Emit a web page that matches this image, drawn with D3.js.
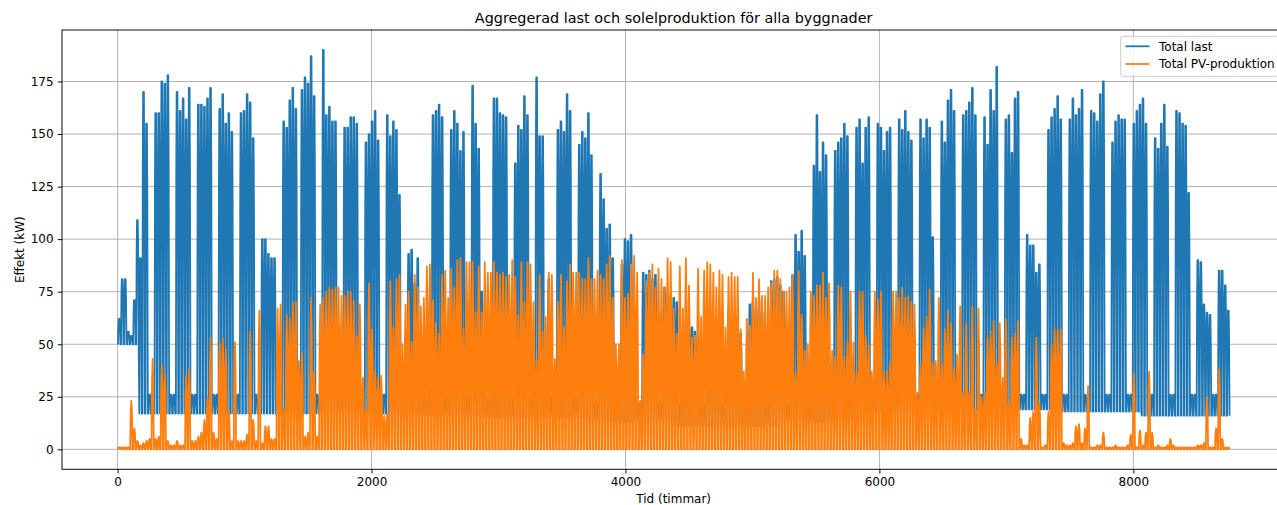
<!DOCTYPE html>
<meta charset="utf-8">
<head>
<style>
  body { margin: 0; background: #fff; }
  svg text { font-family: "DejaVu Sans", sans-serif; fill: #000; }
  .grid line { stroke: #b0b0b0; stroke-width: 0.96; }
</style>
</head>
<body>
<div id="chart"></div>
<script src="https://cdn.jsdelivr.net/npm/d3@7"></script>
<script>

// daily max of total load (kW), one value per day of the year (Feb 29 missing)
var loadPeak = [
  62, 81, 81, 56, 54, 71, 109, 91, 170, 155, 26, 26,
  160, 160, 175, 174, 178, 26, 26,
  170, 161, 167, 157, 172, 26, 26,
  164, 164, 163, 167, 172, 26, 26,
  162, 169, 155, 160, 151, 26, 26,
  160, 161, 169, 165, 148, 26, 26,
  100, 100, 93, 91, 91, 24, 24,
  156, 153, 166, 172, 162, 24,
  171, 177, 174, 187, 168, 26, 26,
  190, 159, 163, 156, 156, 26, 26,
  153, 153, 158, 158, 155, 26, 26,
  146, 150, 156, 161, 147, 26, 26,
  159, 149, 156, 152, 121, 24, 24,
  93, 95, 79, 91, 40, 24, 24,
  30, 159, 161, 164, 158, 24, 24,
  152, 161, 155, 142, 151, 24, 24,
  173, 155, 143, 75, 32, 24, 24,
  167, 167, 160, 159, 158, 24, 24,
  136, 154, 152, 168, 159, 24, 24,
  177, 149, 149, 40, 81, 24, 24,
  152, 156, 151, 169, 161, 24, 24,
  145, 151, 148, 160, 140, 22, 22,
  131, 119, 105, 107, 91, 22, 22,
  88, 100, 99, 102, 35, 22, 22,
  84, 83, 85, 81, 83, 22, 22,
  77, 74, 73, 72, 70, 22, 22,
  62, 60, 58, 56, 54, 22, 22,
  55, 55, 57, 54, 52, 22, 22,
  66, 60, 58, 60, 55, 22, 22,
  69, 70, 66, 71, 65, 22, 22,
  80, 81, 82, 78, 75, 22, 22,
  83, 102, 94, 104, 92, 24, 24,
  135, 159, 132, 146, 140, 26, 26,
  142, 146, 148, 155, 149, 26, 26,
  153, 157, 136, 153, 158, 26, 26,
  155, 153, 142, 151, 153, 26, 26,
  157, 152, 161, 151, 147, 26, 26,
  157, 148, 157, 153, 101, 26, 26,
  156, 146, 166, 171, 161, 26, 26,
  159, 161, 165, 172, 159, 26, 26,
  158, 145, 171, 161, 182, 26, 26,
  157, 159, 141, 167, 170, 26, 26,
  102, 97, 97, 84, 88, 26, 26,
  152, 158, 162, 168, 157, 26, 26,
  157, 167, 159, 162, 171, 26, 26,
  161, 160, 156, 169, 175, 26, 26,
  146, 156, 159, 157, 157, 26, 26,
  155, 161, 164, 167, 155, 26, 26,
  148, 143, 155, 164, 144, 26, 26,
  161, 160, 155, 154, 122, 26, 26,
  90, 89, 69, 65, 64, 26, 26,
  85, 85, 78, 66
];

// night level of the load (kW), per week
var loadBase = [
  50, 17, 17, 17, 17, 17, 17, 17, 17, 17, 17, 17, 17,
  16, 16, 16, 16, 15, 15, 15, 15, 15, 13, 13, 13, 13,
  11, 11, 11, 11, 11, 13, 13, 13, 13, 18, 18, 18, 18,
  19, 19, 19, 19, 19, 18, 18, 18, 18, 16, 16, 16, 16, 16
];

// daily max of PV production (kW)
var pvPeak = [
  1, 1, 1, 1, 23, 10, 4, 2, 3, 4, 5, 43,
  5, 6, 40, 36, 4, 2, 2,
  4, 2, 2, 35, 38, 4, 4,
  6, 8, 14, 24, 53, 8, 5,
  50, 53, 48, 18, 4, 51, 4,
  4, 4, 7, 56, 14, 4, 66,
  3, 11, 11, 5, 5, 67, 69,
  19, 64, 62, 70, 70, 42,
  46, 6, 8, 72, 37, 6, 69,
  72, 75, 77, 76, 77, 77, 73,
  73, 75, 75, 71, 54, 69, 34,
  19, 79, 57, 37, 34, 35, 16,
  17, 80, 58, 81, 83, 50, 69,
  75, 51, 83, 77, 68, 72, 87,
  88, 71, 60, 55, 83, 85, 72,
  86, 77, 90, 91, 57, 89, 89,
  89, 65, 87, 65, 89, 84, 84,
  89, 84, 83, 84, 82, 83, 90,
  82, 64, 89, 70, 89, 88, 70,
  43, 83, 56, 63, 84, 83, 43,
  70, 83, 58, 80, 88, 84, 84,
  84, 81, 81, 91, 81, 81, 85,
  83, 81, 88, 92, 72, 50, 50,
  90, 72, 74, 88, 92, 84, 23,
  45, 80, 84, 88, 77, 86, 81,
  77, 91, 89, 67, 55, 87, 67,
  91, 78, 53, 54, 86, 63, 85,
  89, 88, 84, 77, 85, 83, 58,
  82, 84, 82, 82, 57, 37, 62,
  59, 84, 72, 81, 73, 73, 77,
  79, 85, 85, 81, 75, 75, 77,
  83, 36, 85, 64, 47, 50, 75,
  73, 78, 78, 84, 72, 79, 47,
  44, 78, 77, 44, 51, 75, 51,
  37, 75, 75, 54, 50, 37, 75,
  71, 75, 37, 37, 41, 75, 75,
  72, 77, 72, 73, 70, 69, 27,
  41, 58, 63, 76, 41, 42, 72,
  40, 57, 66, 60, 38, 45, 68,
  27, 60, 27, 68, 19, 67, 25,
  27, 53, 56, 61, 41, 60, 34,
  62, 22, 53, 55, 61, 5, 2,
  2, 15, 18, 53, 22, 1, 2,
  18, 50, 57, 57, 57, 3, 2,
  2, 3, 11, 12, 3, 10, 30,
  1, 1, 2, 2, 8, 1, 1,
  1, 2, 1, 1, 1, 2, 7,
  36, 1, 9, 2, 8, 37, 8,
  1, 2, 1, 1, 2, 5, 2,
  1, 1, 1, 1, 1, 1, 1,
  2, 2, 3, 25, 1, 1, 10,
  38, 5, 1, 1
];

// typical day: [hour, share of the way from night level to the day's peak]
var loadDay = [[3, 0], [6, 0.75], [9, 1], [15, 1], [18, 0.75], [22, 0]];
var pvDay = [[3, 0], [7, 0.75], [12, 1], [17, 0.75], [21, 0]];

var xTicks = [0, 2000, 4000, 6000, 8000];
var yTicks = [0, 25, 50, 75, 100, 125, 150, 175];
var seriesNames = ["Total last", "Total PV-produktion"];
var colors = ["#1f77b4", "#ff7f0e"];

// hourly points from the daily values
var loadData = [];
loadPeak.forEach(function(p, d) {
  var b = loadBase[Math.floor(d / 7)];
  loadDay.forEach(function(s) {
    loadData.push([24 * d + s[0], b + s[1] * (p - b)]);
  });
});
var pvData = [];
pvPeak.forEach(function(p, d) {
  pvDay.forEach(function(s) {
    pvData.push([24 * d + s[0], s[1] * p]);
  });
});

var W = 1277, H = 505;
var plot = {left: 62, top: 30, right: 1285.3, bottom: 469.3};

var svg = d3.select("#chart").append("svg")
    .attr("width", W)
    .attr("height", H);

var hMax = loadPeak.length * 24 - 1;
var x = d3.scaleLinear()
    .domain([-0.05 * hMax, hMax * 1.05])
    .range([plot.left, plot.right]);
var yMax = d3.max(loadPeak);
var y = d3.scaleLinear()
    .domain([-0.05 * yMax, yMax * 1.05])
    .range([plot.bottom, plot.top]);

// grid
var grid = svg.append("g").attr("class", "grid");
grid.selectAll(".gx").data(xTicks).enter().append("line")
    .attr("x1", function(d) { return x(d); })
    .attr("x2", function(d) { return x(d); })
    .attr("y1", plot.top).attr("y2", plot.bottom);
grid.selectAll(".gy").data(yTicks).enter().append("line")
    .attr("x1", plot.left).attr("x2", plot.right)
    .attr("y1", function(d) { return y(d); })
    .attr("y2", function(d) { return y(d); });

svg.append("clipPath").attr("id", "clip")
  .append("rect")
    .attr("x", plot.left).attr("y", plot.top)
    .attr("width", plot.right - plot.left).attr("height", plot.bottom - plot.top);

var line = d3.line()
    .x(function(d) { return x(d[0]); })
    .y(function(d) { return y(d[1]); });

[loadData, pvData].forEach(function(data, i) {
  svg.append("path")
      .datum(data)
      .attr("clip-path", "url(#clip)")
      .attr("fill", "none")
      .attr("stroke", colors[i])
      .attr("stroke-width", 1.8)
      .attr("stroke-linejoin", "round")
      .attr("d", line);
});

// axes
var xAxis = svg.append("g")
    .attr("transform", "translate(0," + plot.bottom + ")")
    .call(d3.axisBottom(x).tickValues(xTicks).tickFormat(d3.format("d"))
      .tickSize(4.2).tickPadding(4.2));
var yAxis = svg.append("g")
    .attr("transform", "translate(" + plot.left + ",0)")
    .call(d3.axisLeft(y).tickValues(yTicks).tickFormat(d3.format("d"))
      .tickSize(4.2).tickPadding(4.2));
[xAxis, yAxis].forEach(function(a) {
  a.select(".domain").remove();
  a.attr("font-size", 12).attr("font-family", "DejaVu Sans");
  a.selectAll("line").attr("stroke", "#000").attr("stroke-width", 0.96);
  a.selectAll("text").attr("fill", "#000");
});

// spines
svg.append("rect")
    .attr("x", plot.left).attr("y", plot.top)
    .attr("width", plot.right - plot.left).attr("height", plot.bottom - plot.top)
    .attr("fill", "none")
    .attr("stroke", "#000")
    .attr("stroke-width", 0.96);

// title and labels
svg.append("text")
    .attr("x", (plot.left + plot.right) / 2).attr("y", 23)
    .attr("text-anchor", "middle")
    .attr("font-size", 14.4)
    .text("Aggregerad last och solelproduktion för alla byggnader");
svg.append("text")
    .attr("x", (plot.left + plot.right) / 2).attr("y", 503)
    .attr("text-anchor", "middle")
    .attr("font-size", 12)
    .text("Tid (timmar)");
svg.append("text")
    .attr("transform", "translate(24," + (plot.top + plot.bottom) / 2 + ") rotate(-90)")
    .attr("text-anchor", "middle")
    .attr("font-size", 12)
    .text("Effekt (kW)");

// legend
var lg = svg.append("g");
lg.append("rect")
    .attr("x", 1120.7).attr("y", 36.3)
    .attr("width", 158.6).attr("height", 40)
    .attr("rx", 2.5)
    .attr("fill", "#fff").attr("fill-opacity", 0.8)
    .attr("stroke", "#cccccc").attr("stroke-width", 1);
seriesNames.forEach(function(name, i) {
  var yy = 46.3 + i * 17.7;
  lg.append("line")
      .attr("x1", 1125.5).attr("x2", 1149.5)
      .attr("y1", yy).attr("y2", yy)
      .attr("stroke", colors[i]).attr("stroke-width", 1.8);
  lg.append("text")
      .attr("x", 1159).attr("y", yy + 4.3)
      .attr("font-size", 12)
      .text(name);
});
</script>
</body>
